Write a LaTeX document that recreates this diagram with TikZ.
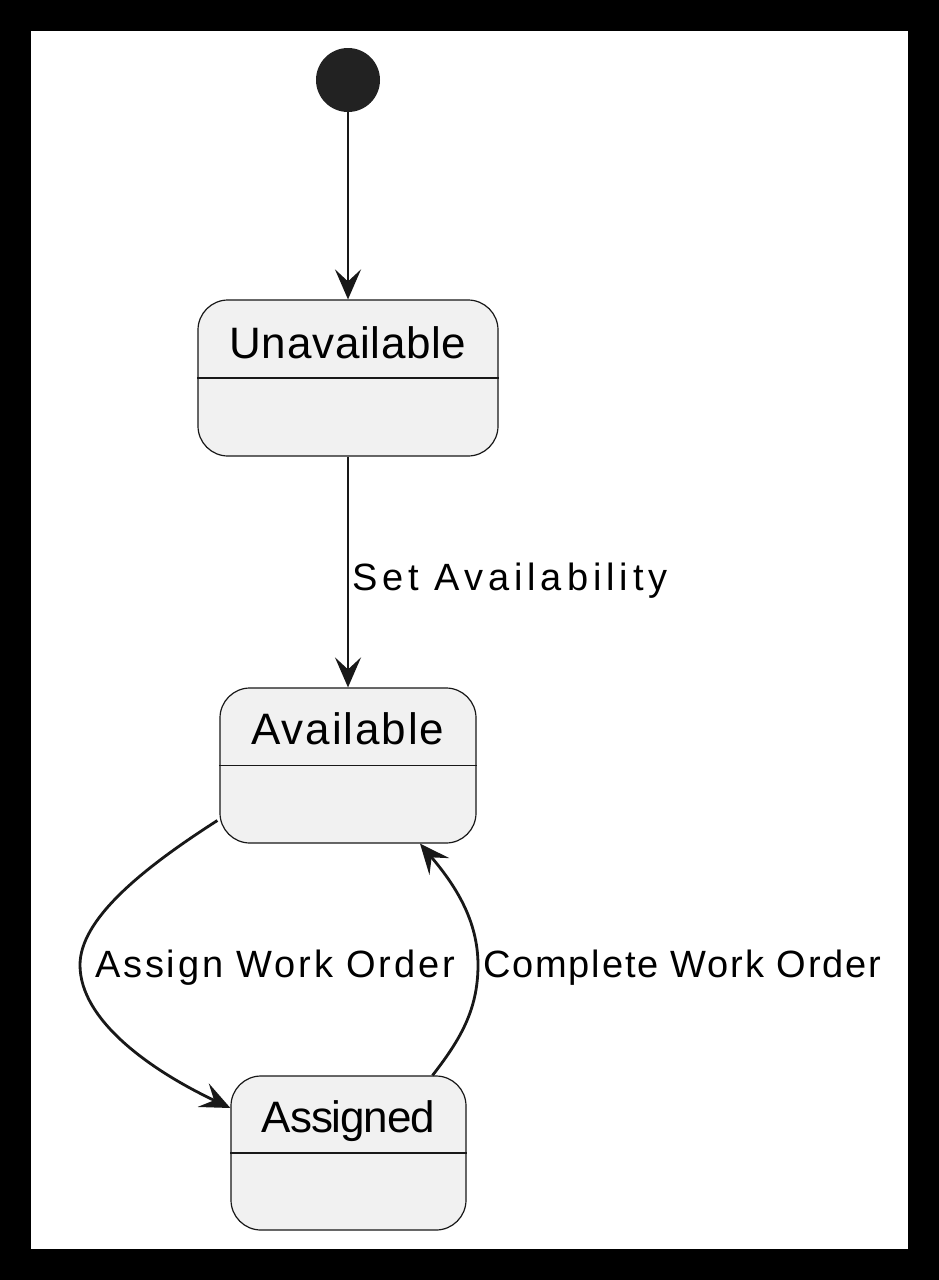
\documentclass[tikz,border=0pt]{standalone}
\usepackage{fontspec}
\setmainfont{Liberation Sans}
\newfontfamily\spA[LetterSpace=13]{Liberation Sans}
\newfontfamily\spB[LetterSpace=7.4]{Liberation Sans}
\newfontfamily\spC[LetterSpace=4.8]{Liberation Sans}
\newfontfamily\spU[LetterSpace=1.6]{Liberation Sans}
\newfontfamily\spV[LetterSpace=4.3]{Liberation Sans}
\newfontfamily\spG[LetterSpace=-2.5]{Liberation Sans}
\usetikzlibrary{arrows.meta}
\definecolor{boxfill}{HTML}{F1F1F1}
\definecolor{ink}{HTML}{181818}
\definecolor{startfill}{HTML}{222222}
\begin{document}
\begin{tikzpicture}[x=1pt,y=1pt,
  statebox/.style={draw=ink, line width=1.2pt, fill=boxfill, rounded corners=30pt, inner sep=0pt},
  titletext/.style={anchor=base, inner sep=0pt, text=black},
  labeltext/.style={anchor=base west, inner sep=0pt, text=black},
  arr/.style={draw=ink, line width=2.8pt, -{Stealth[length=30pt,width=26pt,inset=12pt]}}]
\useasboundingbox (0,0) rectangle (939,-1280);
\fill[black] (0,0) rectangle (939,-1280);
\fill[white] (31,-31) rectangle (908,-1249);

\node[circle, fill=startfill, minimum size=64pt, inner sep=0pt] (S) at (348,-80) {};

\node[statebox, minimum width=300pt, minimum height=156pt] (U) at (348,-378) {};
\draw[ink, line width=1.2pt] (U.west) -- (U.east);
\node[titletext, font=\spU\fontsize{44}{52}\selectfont] (Ut) at ([yshift=-59pt]U.north) {Unavailable};

\node[statebox, minimum width=256pt, minimum height=155pt] (A) at (348,-765.5) {};
\draw[ink, line width=1.2pt] (A.west) -- (A.east);
\node[titletext, font=\spV\fontsize{44}{52}\selectfont] (At) at ([yshift=-57pt]A.north) {Available};

\node[statebox, minimum width=235pt, minimum height=154pt] (B) at (348.5,-1153) {};
\draw[ink, line width=1.2pt] (B.west) -- (B.east);
\node[titletext, font=\spG\fontsize{44}{52}\selectfont] (Bt) at ([yshift=-57pt]B.north) {Assigned};

\draw[arr] (S) -- (U.north);
\draw[arr] (U.south) -- (A.north);
\node[labeltext, font=\spA\fontsize{38}{46}\selectfont] (L1) at (352,-590) {Set Availability};

\coordinate (a1) at ([xshift=-2pt,yshift=-55pt]A.west);
\coordinate (b1) at ([yshift=45pt]B.west);
\draw[arr] (a1) .. controls (140,-870) and (80,-920) .. (80,-965)
  .. controls (80,-1020) and (150,-1070) .. (b1);
\node[labeltext, font=\spB\fontsize{38}{46}\selectfont] (L2) at (95,-977) {Assign Work Order};

\coordinate (b2) at ([xshift=84pt]B.north);
\coordinate (a2) at ([xshift=72pt]A.south);
\draw[arr] (b2) .. controls (460,-1040) and (478,-1010) .. (478,-965)
  .. controls (478,-920) and (455,-885) .. (a2);
\node[labeltext, font=\spC\fontsize{38}{46}\selectfont] (L3) at (483,-977) {Complete Work Order};
\end{tikzpicture}
\end{document}
